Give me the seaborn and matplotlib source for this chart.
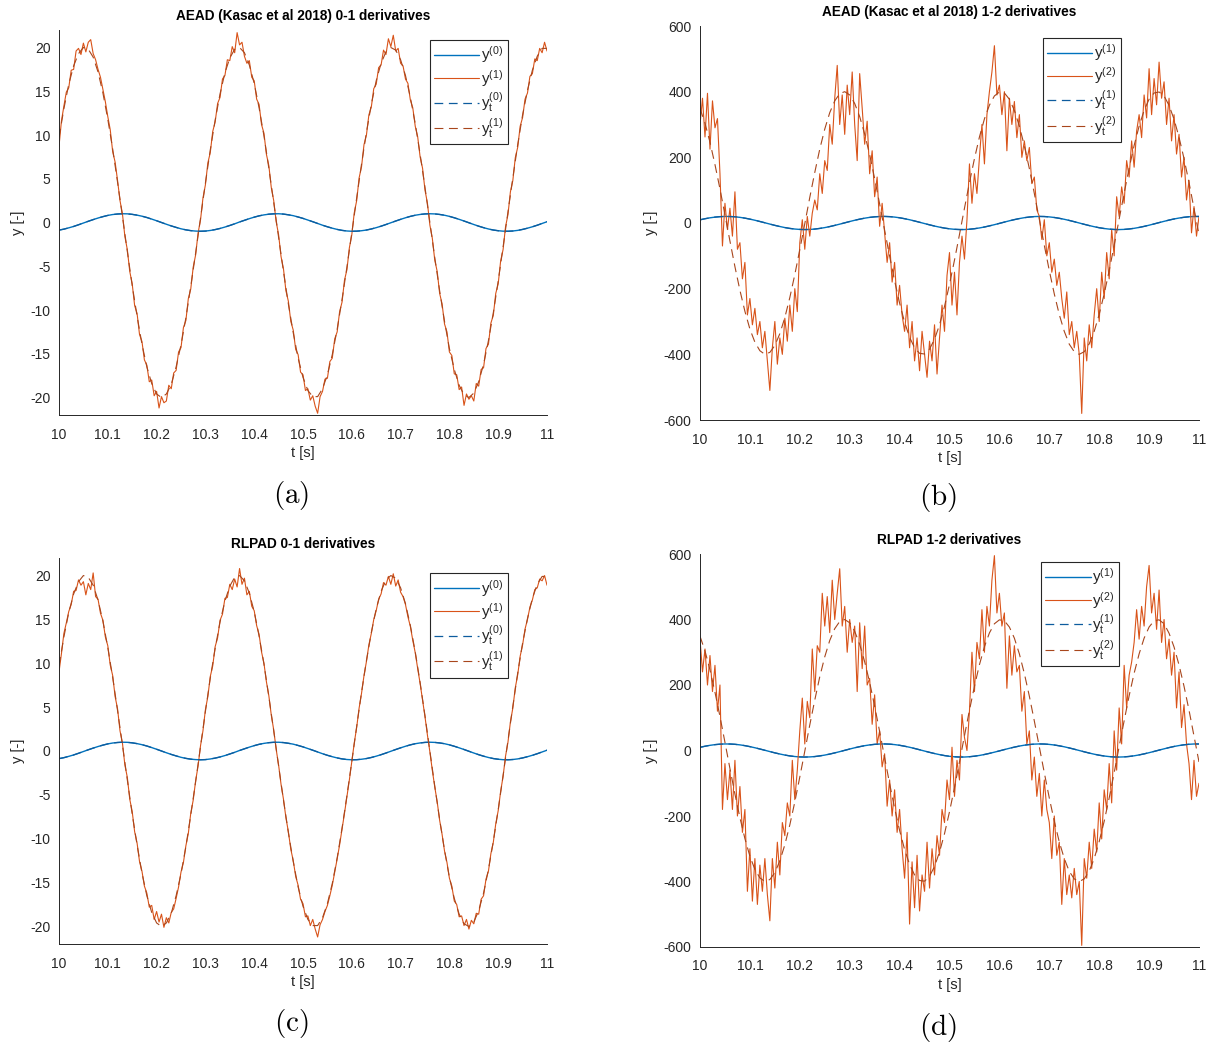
import numpy as np
import matplotlib
matplotlib.use("Agg")
import matplotlib.pyplot as plt
import seaborn as sns

# ---------------- data ----------------
t_coarse = np.linspace(10, 11, 101)   # sample times of the reference signals
t_fine = np.linspace(10, 11, 201)     # sample times of the estimates

y0_true = [-0.87, -0.76, -0.61, -0.45, -0.26, -0.06, 0.14, 0.33, 0.51, 0.67,
           0.81, 0.91, 0.97, 1.00, 0.99, 0.93, 0.84, 0.72, 0.57, 0.39,
           0.20, 0.00, -0.20, -0.39, -0.56, -0.72, -0.84, -0.93, -0.98, -1.00,
           -0.98, -0.91, -0.81, -0.68, -0.52, -0.34, -0.15, 0.06, 0.25, 0.44,
           0.61, 0.76, 0.87, 0.95, 0.99, 1.00, 0.96, 0.88, 0.78, 0.63,
           0.47, 0.28, 0.09, -0.11, -0.31, -0.49, -0.65, -0.79, -0.90, -0.97,
           -1.00, -0.99, -0.94, -0.86, -0.74, -0.59, -0.42, -0.23, -0.03, 0.17,
           0.36, 0.54, 0.70, 0.83, 0.92, 0.98, 1.00, 0.98, 0.92, 0.83,
           0.70, 0.54, 0.36, 0.17, -0.03, -0.23, -0.42, -0.59, -0.74, -0.86,
           -0.94, -0.99, -1.00, -0.97, -0.90, -0.79, -0.65, -0.49, -0.31, -0.11,
           0.09]

y1_true = [9.7, 13.0, 15.8, 17.9, 19.3, 20.0, 19.8, 18.9, 17.2, 14.8,
           11.8, 8.4, 4.6, 0.7, -3.3, -7.2, -10.7, -13.9, -16.5, -18.4,
           -19.6, -20.0, -19.6, -18.5, -16.5, -14.0, -10.9, -7.3, -3.5, 0.5,
           4.5, 8.3, 11.7, 14.7, 17.1, 18.8, 19.8, 20.0, 19.4, 18.0,
           15.9, 13.1, 9.9, 6.2, 2.3, -1.7, -5.6, -9.3, -12.6, -15.5,
           -17.7, -19.2, -19.9, -19.9, -19.0, -17.4, -15.1, -12.2, -8.8, -5.1,
           -1.2, 2.8, 6.7, 10.3, 13.5, 16.2, 18.2, 19.5, 20.0, 19.7,
           18.6, 16.8, 14.3, 11.3, 7.8, 4.0, 0.0, -4.0, -7.8, -11.3,
           -14.4, -16.8, -18.6, -19.7, -20.0, -19.5, -18.2, -16.2, -13.5, -10.3,
           -6.7, -2.8, 1.2, 5.1, 8.9, 12.3, 15.1, 17.4, 19.0, 19.9,
           19.9]

y2_true = [349, 304, 246, 178, 104, 25, -55, -133, -205, -269,
           -323, -363, -389, -400, -394, -373, -337, -288, -227, -157,
           -81, -2, 78, 154, 225, 286, 336, 372, 394, 400,
           390, 364, 324, 271, 208, 135, 58, -22, -101, -176,
           -244, -302, -348, -380, -397, -399, -384, -354, -310, -254,
           -187, -113, -35, 45, 123, 196, 262, 317, 359, 387,
           399, 396, 377, 343, 295, 235, 166, 90, 11, -68,
           -145, -216, -279, -330, -369, -392, -400, -392, -368, -330,
           -278, -216, -145, -68, 12, 91, 167, 236, 295, 343,
           377, 396, 399, 387, 358, 316, 261, 196, 123, 44,
           -35]

y1_est_aead = [8.7, 11.6, 13.3, 14.9, 15.4, 17.4, 17.5, 19.6, 19.9, 19.2,
               20.5, 19.5, 20.6, 20.9, 19.3, 18.6, 17.5, 16.6, 15.2, 13.8,
               12.1, 10.6, 8.1, 6.9, 4.8, 2.5, 1.0, -1.6, -3.1, -5.6,
               -7.0, -9.5, -10.4, -12.8, -13.6, -15.7, -16.3, -18.2, -18.0, -19.8,
               -19.3, -21.2, -19.9, -20.6, -20.4, -18.6, -19.0, -17.2, -16.9, -14.8,
               -14.3, -12.0, -11.2, -8.7, -7.6, -5.1, -3.7, -1.2, 0.3, 2.8,
               4.3, 6.8, 8.0, 10.4, 11.5, 13.6, 14.3, 16.4, 16.8, 18.6,
               18.5, 20.1, 19.4, 21.7, 20.3, 20.6, 19.0, 18.2, 18.5, 16.6,
               16.2, 14.1, 13.5, 11.2, 10.2, 7.8, 6.5, 4.0, 2.5, 0.1,
               -1.4, -3.9, -5.3, -7.8, -9.0, -11.3, -12.3, -14.5, -15.1, -17.1,
               -17.4, -19.2, -19.0, -20.3, -19.8, -21.0, -21.8, -19.9, -19.3, -17.9,
               -17.8, -15.9, -15.5, -13.3, -12.5, -10.2, -9.1, -6.6, -5.4, -2.9,
               -1.4, 1.1, 2.5, 5.1, 6.4, 8.9, 10.0, 12.3, 13.2, 15.3,
               15.8, 17.7, 18.0, 19.7, 19.2, 21.0, 20.1, 21.4, 19.6, 19.9,
               18.2, 17.9, 16.4, 15.9, 14.0, 13.1, 11.0, 9.8, 7.5, 6.2,
               3.7, 2.2, -0.3, -1.8, -4.3, -5.6, -8.1, -9.3, -11.6, -12.5,
               -14.8, -15.2, -17.3, -17.4, -19.1, -18.8, -20.9, -19.6, -20.2, -19.8,
               -20.4, -18.4, -18.7, -16.8, -16.6, -14.4, -13.9, -11.5, -10.6, -8.1,
               -7.0, -4.4, -3.1, -0.5, 0.9, 3.5, 4.8, 7.4, 8.6, 11.0,
               12.0, 14.1, 14.8, 16.7, 17.0, 18.7, 18.5, 19.9, 19.4, 20.6,
               19.6]

y1_est_rlpad = [9.0, 11.1, 13.4, 14.6, 15.9, 16.7, 18.2, 18.3, 19.5, 18.9,
                19.3, 17.8, 19.1, 18.4, 20.3, 17.6, 17.3, 15.7, 14.9, 13.0,
                12.0, 9.8, 8.6, 6.2, 4.8, 2.3, 0.9, -1.6, -3.0, -5.5,
                -6.9, -9.2, -10.5, -12.6, -13.7, -15.4, -16.2, -17.8, -17.6, -19.2,
                -18.3, -19.5, -18.6, -20.1, -19.0, -19.6, -18.4, -18.0, -16.8, -15.5,
                -13.8, -12.7, -10.8, -9.4, -7.1, -5.6, -3.4, -1.7, 0.6, 2.3,
                4.7, 6.2, 8.5, 9.7, 11.9, 12.9, 14.9, 15.6, 17.4, 17.5,
                19.0, 18.4, 19.6, 18.7, 20.8, 19.0, 19.7, 17.8, 18.2, 16.5,
                16.0, 14.3, 13.3, 11.3, 10.0, 7.9, 6.3, 4.1, 2.4, 0.2,
                -1.6, -3.8, -5.5, -7.6, -9.2, -11.2, -12.5, -14.3, -15.3, -16.9,
                -17.4, -18.9, -18.8, -19.9, -19.2, -20.3, -21.2, -19.8, -19.2, -18.3,
                -17.6, -16.5, -15.3, -13.8, -12.3, -10.7, -8.9, -7.1, -5.2, -3.3,
                -1.2, 0.9, 2.7, 4.9, 6.6, 8.6, 10.2, 12.1, 13.4, 15.0,
                16.0, 17.3, 17.9, 19.2, 18.9, 19.9, 19.0, 20.2, 18.8, 19.5,
                18.1, 17.6, 16.7, 15.3, 14.2, 12.6, 11.2, 9.4, 7.7, 5.8,
                3.9, 1.8, -0.1, -2.2, -4.1, -5.8, -7.9, -9.5, -11.4, -12.7,
                -14.5, -15.4, -17.1, -17.5, -18.9, -18.8, -19.9, -19.2, -20.3, -19.3,
                -19.7, -18.5, -18.6, -16.9, -16.5, -14.6, -13.7, -11.7, -10.4, -8.3,
                -6.8, -4.6, -2.9, -0.6, 1.0, 3.3, 4.9, 7.2, 8.7, 10.8,
                12.1, 13.9, 15.0, 16.4, 17.2, 18.4, 18.6, 19.6, 19.4, 20.0,
                18.9]

y2_est_aead = [300, 380, 262, 395, 225, 372, 290, 318, 150, -70,
               60, -20, 45, -40, 95, -80, -60, -170, -120, -280,
               -230, -310, -260, -340, -300, -380, -330, -420, -510, -380,
               -300, -430, -350, -400, -290, -360, -250, -330, -200, -270,
               -60, 10, -80, 20, -40, 30, 70, 40, 150, 90,
               190, 160, 300, 240, 380, 480, 300, 390, 270, 420,
               330, 460, 300, 190, 455, 350, 240, 310, 150, 220,
               80, 140, -10, 60, -30, -120, -60, -180, -120, -250,
               -190, -280, -330, -250, -380, -300, -420, -350, -450, -330,
               -400, -470, -360, -420, -310, -460, -350, -250, -330, -160,
               -90, -250, -150, -280, -120, -40, -110, 10, 180, 60,
               150, 90, 200, 300, 180, 330, 400, 460, 540, 390,
               420, 330, 400, 220, 380, 300, 370, 260, 330, 200,
               250, 190, 230, 120, 140, 40, 20, -50, 10, -100,
               -60, -150, -110, -190, -150, -230, -290, -210, -340, -300,
               -380, -330, -400, -580, -350, -420, -310, -380, -280, -200,
               -300, -150, -230, -90, -170, -20, -100, 80, 20, 110,
               60, 190, 140, 250, 170, 280, 330, 260, 390, 320,
               470, 330, 440, 360, 490, 380, 430, 300, 380, 250,
               330, 210, 270, 140, 200, 70, 130, -30, 50, -40,
               20]

y2_est_rlpad = [340, 240, 310, 200, 290, 180, 260, 120, 200, -180,
                -40, -150, -60, -180, -30, -200, -110, -250, -180, -430,
                -300, -460, -330, -470, -350, -430, -330, -440, -520, -330,
                -420, -280, -380, -220, -260, -160, -200, -30, -150, -60,
                60, 160, 20, 150, 100, 310, 180, 320, 300, 480,
                380, 470, 360, 520, 400, 480, 555, 380, 440, 300,
                400, 330, 380, 180, 390, 250, 380, 200, 220, 80,
                170, 20, 60, -50, -10, -170, -90, -200, -120, -250,
                -180, -300, -390, -250, -530, -340, -480, -320, -490, -380,
                -430, -280, -420, -300, -380, -260, -320, -180, -220, -90,
                -150, 10, -140, -30, -90, 110, 40, 0, 120, 300,
                180, 330, 280, 430, 300, 440, 380, 520, 595, 420,
                480, 380, 420, 190, 350, 230, 320, 240, 260, 120,
                180, 20, 60, -90, -20, -140, -70, -200, -90, -180,
                -220, -330, -200, -320, -280, -470, -330, -440, -380, -450,
                -360, -440, -400, -595, -330, -390, -280, -360, -240, -310,
                -160, -270, -120, -180, -40, -160, 60, -60, 130, 20,
                260, 130, 230, 270, 330, 430, 340, 440, 380, 500,
                565, 420, 480, 370, 490, 330, 400, 280, 340, 230,
                300, 130, 240, 70, 140, 20, -40, -150, -30, -140,
                -100]

x_ticks = [10, 10.1, 10.2, 10.3, 10.4, 10.5, 10.6, 10.7, 10.8, 10.9, 11]
x_tick_labels = ["10", "10.1", "10.2", "10.3", "10.4", "10.5", "10.6", "10.7", "10.8", "10.9", "11"]
y_ticks_01 = [-20, -15, -10, -5, 0, 5, 10, 15, 20]
y_ticks_12 = [-600, -400, -200, 0, 200, 400, 600]

titles = ["AEAD (Kasac et al 2018) 0-1 derivatives",
          "AEAD (Kasac et al 2018) 1-2 derivatives",
          "RLPAD 0-1 derivatives",
          "RLPAD 1-2 derivatives"]
labels_01 = [r"$y^{(0)}$", r"$y^{(1)}$", r"$y_t^{(0)}$", r"$y_t^{(1)}$"]
labels_12 = [r"$y^{(1)}$", r"$y^{(2)}$", r"$y_t^{(1)}$", r"$y_t^{(2)}$"]
subcaptions = ["(a)", "(b)", "(c)", "(d)"]

# ---------------- style ----------------
sns.set_theme(style="white")
plt.rcParams["font.family"] = ["Liberation Sans", "DejaVu Sans"]
plt.rcParams["mathtext.fontset"] = "custom"
plt.rcParams["mathtext.rm"] = "Liberation Sans"
plt.rcParams["mathtext.it"] = "Liberation Sans"
plt.rcParams["mathtext.default"] = "regular"
plt.rcParams["axes.unicode_minus"] = False

BLUE = "#0072BD"
BLUE_D = "#0D5C9E"
ORANGE = "#D95319"
ORANGE_D = "#A8461C"
DARK = "#262626"

W, H = 1214, 1048
fig = plt.figure(figsize=(W / 100, H / 100), dpi=100)


def rect(l, t, r, b):
    return [l / W, 1 - b / H, (r - l) / W, (b - t) / H]


specs = [
    dict(rect=rect(59, 30, 547, 415), lo_true=y0_true, hi_true=y1_true, hi_est=y1_est_aead,
         labels=labels_01, ylim=(-22, 22), yticks=y_ticks_01, leg=(0.920, 0.974),
         cap=(291, 495)),
    dict(rect=rect(700, 26, 1199, 420), lo_true=y1_true, hi_true=y2_true, hi_est=y2_est_aead,
         labels=labels_12, ylim=(-600, 600), yticks=y_ticks_12, leg=(0.844, 0.970),
         cap=(938, 498)),
    dict(rect=rect(59, 558, 547, 944), lo_true=y0_true, hi_true=y1_true, hi_est=y1_est_rlpad,
         labels=labels_01, ylim=(-22, 22), yticks=y_ticks_01, leg=(0.920, 0.961),
         cap=(291, 1023)),
    dict(rect=rect(700, 554, 1199, 947), lo_true=y1_true, hi_true=y2_true, hi_est=y2_est_rlpad,
         labels=labels_12, ylim=(-600, 600), yticks=y_ticks_12, leg=(0.840, 0.980),
         cap=(938, 1027)),
]

for i, s in enumerate(specs):
    ax = fig.add_axes(s["rect"])
    kw = dict(ax=ax, estimator=None, sort=False, errorbar=None)
    sns.lineplot(x=t_coarse, y=s["lo_true"], color=BLUE, linewidth=1.0, label=s["labels"][0], **kw)
    sns.lineplot(x=t_fine, y=s["hi_est"], color=ORANGE, linewidth=0.8, label=s["labels"][1], **kw)
    sns.lineplot(x=t_coarse, y=s["lo_true"], color=BLUE_D, linewidth=0.9, label=s["labels"][2], **kw)
    ax.lines[-1].set_dashes([7, 4.5])
    sns.lineplot(x=t_coarse, y=s["hi_true"], color=ORANGE_D, linewidth=0.8, label=s["labels"][3], **kw)
    ax.lines[-1].set_dashes([8, 5])

    ax.set_xlim(10, 11)
    ax.set_ylim(*s["ylim"])
    ax.set_xticks(x_ticks)
    ax.set_xticklabels(x_tick_labels)
    ax.set_yticks(s["yticks"])
    ax.set_yticklabels([str(v) for v in s["yticks"]])
    for side in ("top", "right"):
        ax.spines[side].set_visible(False)
    for side in ("left", "bottom"):
        ax.spines[side].set_color(DARK)
        ax.spines[side].set_linewidth(0.7)
    ax.tick_params(direction="in", length=4, width=0.7, color=DARK, labelcolor=DARK,
                   labelsize=10)
    ax.tick_params(axis="x", pad=9)
    ax.tick_params(axis="y", pad=6)
    ax.set_xlabel("t [s]", fontsize=10.5, color=DARK, labelpad=3)
    ax.set_ylabel("y [-]", fontsize=10.5, color=DARK, labelpad=4)
    ax.set_title(titles[i], fontsize=9.8, fontweight="bold", color="black", pad=7)

    leg = ax.legend(loc="upper right", bbox_to_anchor=s["leg"], borderaxespad=0,
                    frameon=True, fancybox=False, edgecolor=DARK, framealpha=1,
                    fontsize=11, handlelength=2.95, handletextpad=0.12,
                    labelspacing=0.15, borderpad=0.3)
    leg.get_frame().set_linewidth(0.8)
    for txt in leg.get_texts():
        txt.set_color(DARK)

    cx, cy = s["cap"]
    fig.text(cx / W, 1 - cy / H, r"$\mathrm{" + subcaptions[i] + "}$",
             ha="center", va="center", fontsize=21, math_fontfamily="cm", color="black")

fig.savefig("out.png", dpi=100, facecolor="white")
